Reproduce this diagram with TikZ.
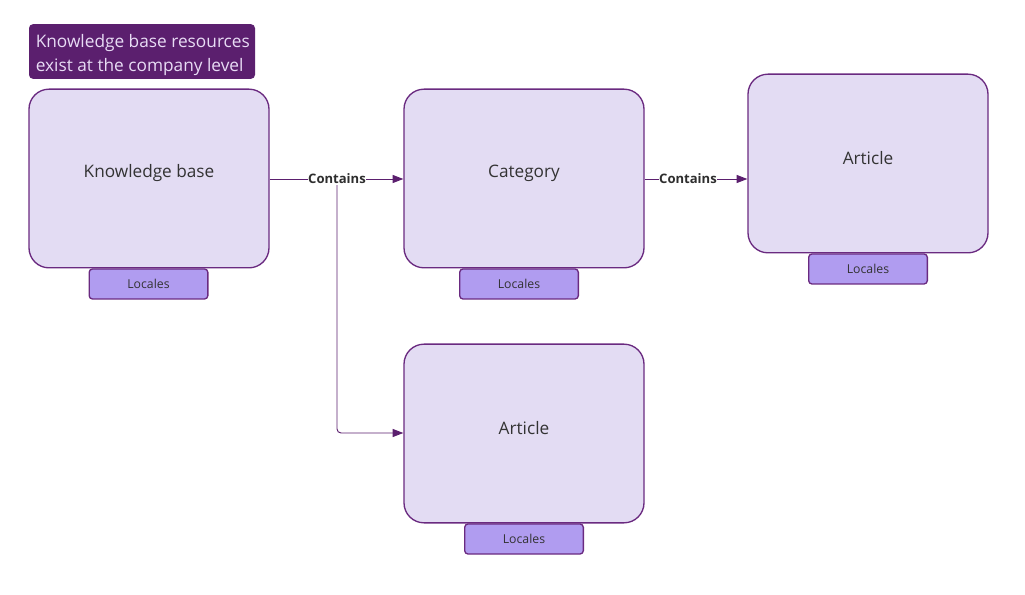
\documentclass[tikz,border=0pt]{standalone}
\usepackage{fontspec}
\setmainfont{Open Sans}
\usetikzlibrary{arrows.meta}
\definecolor{dpurple}{HTML}{5B1F6E}
\definecolor{bordc}{HTML}{6A2A80}
\definecolor{boxfill}{HTML}{E3DCF3}
\definecolor{locfill}{HTML}{B09CF0}
\definecolor{txt}{HTML}{333333}
\definecolor{titletxt}{HTML}{E8DCF5}
\begin{document}
\begin{tikzpicture}[x=0.75pt,y=-0.75pt,
  mainbox/.style={draw=bordc,line width=1pt,fill=boxfill,rounded corners=15pt,minimum width=180pt,minimum height=134pt,inner sep=0pt},
  boxtext/.style={text=txt,font=\fontsize{12.9pt}{15pt}\selectfont},
  locbox/.style={draw=bordc,line width=1pt,fill=locfill,rounded corners=2.5pt,minimum width=89pt,minimum height=22.5pt,inner sep=0pt,text=txt,font=\fontsize{9.2pt}{10pt}\selectfont},
  conn/.style={draw=dpurple,line width=0.7pt,-{Triangle[length=8pt,width=6pt]}},
  clabel/.style={fill=white,inner sep=0.5pt,text=txt!90!black,font=\fontsize{9.8pt}{11pt}\selectfont\bfseries}]
\useasboundingbox (0,0) rectangle (1025,595);
% title
\node[fill=dpurple,rounded corners=3pt,minimum width=169.5pt,minimum height=41pt,inner sep=0pt] (title) at (142,51.5) {};
\node[text=titletxt,align=left,anchor=west,inner sep=0pt,font=\fontsize{12.95pt}{18pt}\selectfont] (titletext) at (35.5,55.5) {Knowledge base resources\\exist at the company level};
% locales
\node[locbox] (kbloc) at (148.5,284) {Locales};
\node[locbox] (catloc) at (519,284) {Locales};
\node[locbox] (a1loc) at (868,269) {Locales};
\node[locbox] (a2loc) at (524,539) {Locales};
% boxes
\node[mainbox] (kb) at (149,178.5) {};
\node[boxtext] at (149,173) {Knowledge base};
\node[mainbox] (cat) at (524,178.5) {};
\node[boxtext] at (524,173) {Category};
\node[mainbox] (art1) at (868,163.5) {};
\node[boxtext] at (868,158) {Article};
\node[mainbox] (art2) at (524,433.5) {};
\node[boxtext] at (524,428) {Article};
% connectors
\coordinate (br) at (337,179);
\coordinate (corner) at (337,433);
\draw[conn] (kb.east |- br) -- (cat.west |- br);
\draw[conn,rounded corners=3pt] (br) -- (corner) -- (art2.west |- corner);
\node[clabel] (c1) at (337,179) {Contains};
\coordinate (br2) at (688,179);
\draw[conn] (cat.east |- br2) -- (art1.west |- br2);
\node[clabel] (c2) at (688,179) {Contains};
\end{tikzpicture}
\end{document}
